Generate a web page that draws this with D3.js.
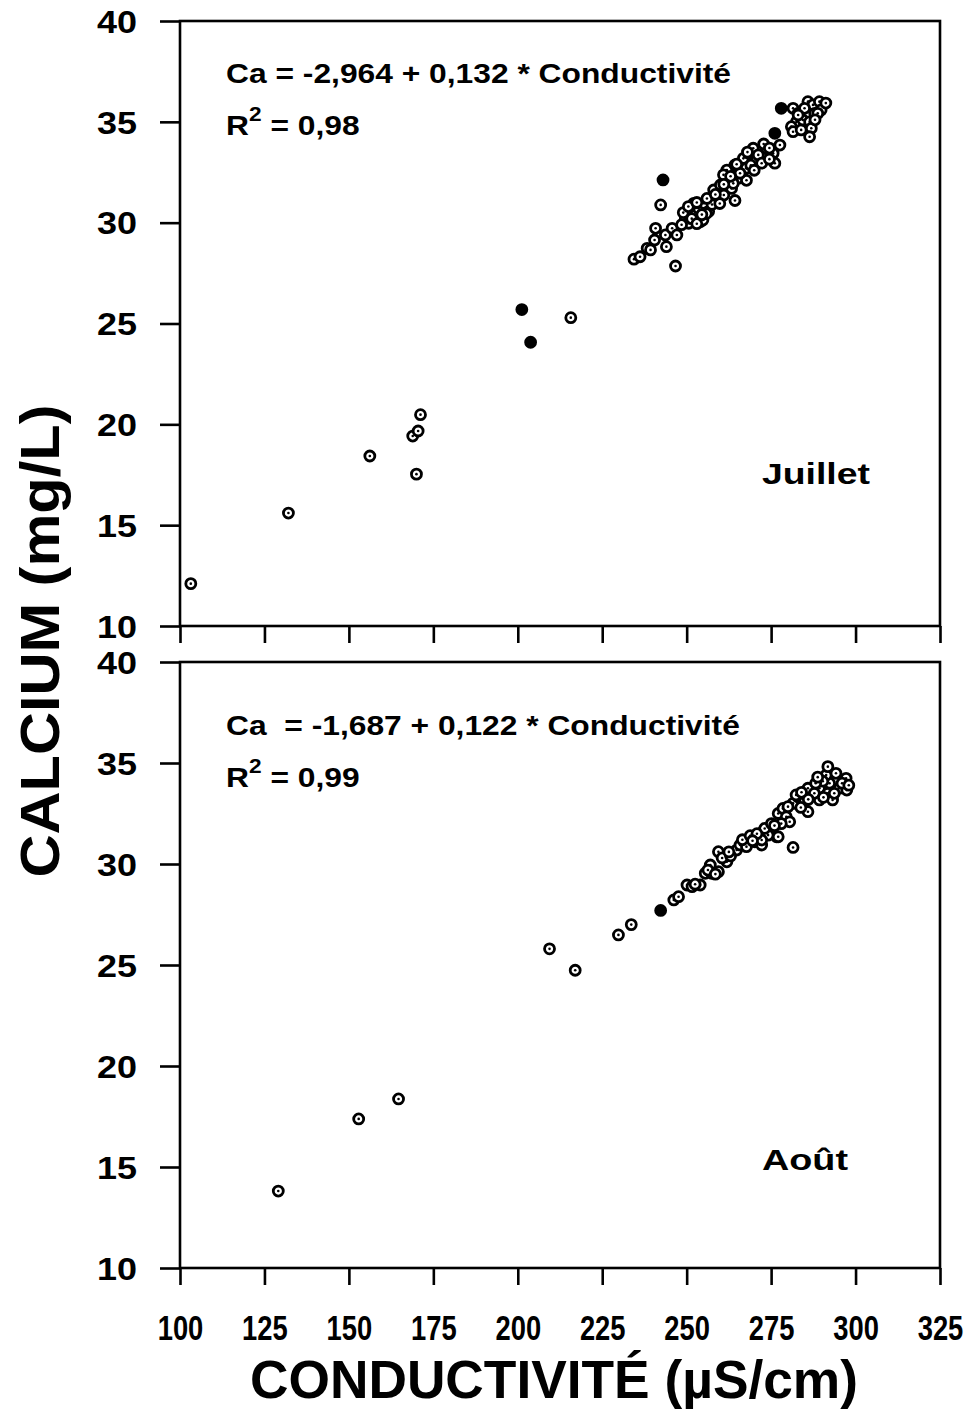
<!DOCTYPE html>
<html>
<head>
<meta charset="utf-8">
<script src="https://cdn.jsdelivr.net/npm/d3@7"></script>
<style>
  html, body { margin: 0; padding: 0; background: #fff; }
  svg { display: block; }
  text { font-family: "Liberation Sans", Arial, Helvetica, sans-serif; font-weight: bold; fill: #000; }
</style>
</head>
<body>
<svg id="chart" width="971" height="1412"></svg>
<script>
// Conductivité (µS/cm) vs calcium (mg/L), juillet
const julyConductivity = [
  103.2, 132.1, 156.2, 170.0, 168.9, 170.5, 171.2, 201.2, 203.8, 215.7,
  234.4, 236.2, 238.3, 239.3, 240.5, 240.8, 243.7, 244.0, 245.7, 247.1,
  246.7, 242.3, 243.0, 249.6, 251.1, 250.6, 252.6, 254.0, 253.5, 255.0,
  254.8, 252.1, 256.5, 258.0, 260.0, 259.0, 261.0, 262.4, 263.3, 262.9,
  261.9, 257.2, 264.3, 265.3, 266.8, 267.7, 260.9, 264.3, 266.8, 268.3,
  269.7, 267.6, 270.7, 272.2, 273.6, 275.6, 277.6, 276.1, 271.2, 272.2,
  276.1, 278.0, 281.5, 283.0, 282.5, 281.0, 281.5, 283.9, 284.4, 285.9,
  287.4, 289.3, 287.9, 286.4, 286.9, 286.4, 289.8, 284.9, 291.2, 288.8,
  283.0, 288.0, 248.5, 251.5, 253.0, 255.8, 257.5, 259.8, 263.8, 265.8,
  269.0, 274.5, 249.0, 250.5, 253.0, 254.5, 256.0, 258.5, 261.0, 263.0,
  264.8, 268.0, 270.0, 272.8, 274.5
];
const julyCalcium = [
  12.1, 15.6, 18.43, 17.53, 19.42, 19.67, 20.48, 25.69, 24.07, 25.29,
  28.19, 28.31, 28.73, 28.65, 29.14, 29.72, 29.39, 28.81, 29.72, 29.39,
  27.85, 30.88, 32.12, 30.22, 30.63, 29.97, 30.38, 30.05, 30.71, 30.96,
  30.13, 30.96, 30.55, 31.62, 31.87, 31.29, 31.37, 32.03, 31.70, 32.53,
  32.61, 31.10, 31.10, 32.20, 32.60, 32.10, 32.37, 32.86, 33.19, 33.44,
  33.69, 32.70, 33.11, 33.27, 33.69, 33.44, 33.85, 32.95, 33.36, 32.95,
  34.43, 35.67, 35.67, 35.42, 35.00, 34.76, 34.51, 34.60, 35.09, 36.00,
  35.84, 36.00, 35.42, 35.00, 34.68, 34.26, 35.59, 35.67, 35.93, 35.42,
  35.34, 35.10, 29.90, 30.20, 29.95, 30.45, 30.90, 30.95, 31.95, 32.45,
  32.85, 33.15, 30.50, 30.80, 31.00, 30.40, 31.20, 31.40, 31.90, 32.30,
  32.90, 33.50, 32.60, 33.90, 33.70
];
// indices of the solid (filled) markers
const julySolid = [7, 8, 22, 60, 61];

// Conductivité (µS/cm) vs calcium (mg/L), août
const augustConductivity = [
  129.1, 152.9, 164.7, 209.4, 217.0, 229.8, 233.6, 242.3, 246.2, 247.6,
  250.1, 251.6, 254.0, 255.5, 257.0, 257.4, 259.4, 259.4, 261.9, 264.8,
  265.8, 267.7, 270.2, 272.2, 272.6, 276.6, 256.3, 258.5, 252.5, 260.5,
  263.0, 266.5, 268.8, 274.1, 272.2, 273.1, 275.1, 277.1, 278.5, 279.5,
  280.5, 281.5, 282.9, 284.9, 285.9, 286.9, 289.3, 289.3, 291.8, 293.2,
  292.3, 291.3, 291.8, 294.2, 297.2, 295.2, 297.4, 281.5, 277.1, 280.0,
  282.4, 285.9, 287.8, 290.3, 293.7, 288.2, 283.8, 278.0, 276.0, 270.8,
  296.0, 298.0, 290.5, 286.0, 262.5, 269.5, 284.0, 288.8
];
const augustCalcium = [
  13.81, 17.38, 18.37, 25.80, 24.74, 26.49, 27.00, 27.70, 28.22, 28.38,
  28.96, 28.88, 28.96, 29.54, 29.95, 29.54, 29.62, 30.61, 30.11, 30.69,
  30.94, 30.86, 31.10, 30.94, 31.60, 31.35, 29.70, 29.50, 29.00, 30.30,
  30.40, 31.20, 31.40, 31.43, 31.19, 31.76, 32.00, 32.50, 32.75, 32.34,
  32.09, 33.00, 33.33, 33.08, 32.59, 33.50, 33.75, 33.17, 33.50, 33.17,
  34.00, 34.40, 34.82, 34.49, 34.24, 33.75, 33.66, 30.82, 31.35, 32.84,
  33.42, 33.75, 33.50, 34.10, 33.50, 34.00, 32.80, 32.00, 31.90, 31.50,
  34.00, 33.90, 33.30, 33.20, 30.60, 31.15, 33.55, 34.30
];
const augustSolid = [7];

// axis ticks
const condTicks = [100, 125, 150, 175, 200, 225, 250, 275, 300, 325];
const caTicks = [10, 15, 20, 25, 30, 35, 40];

const svg = d3.select("#chart");
const stroke = 2.6;

const x = d3.scaleLinear().domain([100, 325]).range([180, 940]);
const panels = [
  {
    y: d3.scaleLinear().domain([10, 40]).range([626, 21]),
    cond: julyConductivity, ca: julyCalcium, solid: julySolid,
    eq: "Ca = -2,964 + 0,132 * Conductivité", r2: "0,98",
    eqY: 83, r2Y: 135, month: "Juillet", monthY: 484, monthW: 108, xLabels: false
  },
  {
    y: d3.scaleLinear().domain([10, 40]).range([1268, 662]),
    cond: augustConductivity, ca: augustCalcium, solid: augustSolid,
    eq: "Ca\u00A0 = -1,687 + 0,122 * Conductivité", r2: "0,99",
    eqY: 735, r2Y: 787, month: "Août", monthY: 1170, monthW: 86, xLabels: true
  }
];

panels.forEach(p => {
  const g = svg.append("g");
  const [y0, y1] = p.y.range();

  // frame
  g.append("rect")
    .attr("x", x(100)).attr("y", y1)
    .attr("width", x(325) - x(100)).attr("height", y0 - y1)
    .attr("fill", "none").attr("stroke", "#000").attr("stroke-width", stroke);

  // y axis
  const yAxis = g.append("g")
    .attr("transform", `translate(${x(100)},0)`)
    .call(d3.axisLeft(p.y).tickValues(caTicks).tickSize(20).tickPadding(23).tickFormat(d3.format("d")));
  yAxis.select(".domain").remove();
  yAxis.selectAll(".tick line").attr("stroke", "#000").attr("stroke-width", stroke);
  yAxis.selectAll(".tick text")
    .attr("font-size", 31).attr("dy", "0.36em")
    .attr("textLength", 40).attr("lengthAdjust", "spacingAndGlyphs")
    .style("font-family", "'Liberation Sans', Arial, sans-serif").style("font-weight", "bold");

  // x axis
  const xAxis = g.append("g")
    .attr("transform", `translate(0,${y0})`)
    .call(d3.axisBottom(x).tickValues(condTicks).tickSize(17).tickPadding(8)
      .tickFormat(p.xLabels ? d3.format("d") : () => ""));
  xAxis.select(".domain").remove();
  xAxis.selectAll(".tick line").attr("stroke", "#000").attr("stroke-width", stroke);
  if (p.xLabels) {
    // condensed tick labels
    xAxis.selectAll(".tick text")
      .attr("font-size", 36).attr("y", 0).attr("dy", 0)
      .attr("transform", "translate(0,72) scale(0.76,1)")
      .style("font-family", "'Liberation Sans', Arial, sans-serif").style("font-weight", "bold");
  }

  // regression equation and R²
  g.append("text")
    .attr("transform", `translate(226,${p.eqY}) scale(1.135,1)`)
    .attr("font-size", 28)
    .style("white-space", "pre")
    .text(p.eq);
  const r2 = g.append("text")
    .attr("transform", `translate(226,${p.r2Y}) scale(1.135,1)`)
    .attr("font-size", 28);
  r2.append("tspan").text("R");
  r2.append("tspan").attr("font-size", 20).attr("dy", -14).text("2");
  r2.append("tspan").attr("dy", 14).text(" = " + p.r2);

  // month
  g.append("text")
    .attr("x", 762).attr("y", p.monthY)
    .attr("font-size", 30)
    .attr("textLength", p.monthW).attr("lengthAdjust", "spacingAndGlyphs")
    .text(p.month);

  // points
  const idx = d3.range(p.cond.length);
  const pts = g.append("g").selectAll("g").data(idx).join("g")
    .attr("transform", i => `translate(${x(p.cond[i])},${p.y(p.ca[i])})`);
  pts.append("circle")
    .attr("r", 5)
    .attr("fill", i => p.solid.includes(i) ? "#000" : "#fff")
    .attr("stroke", "#000").attr("stroke-width", 2.8);
  pts.filter(i => !p.solid.includes(i)).append("circle")
    .attr("r", 1.3).attr("fill", "#000");
});

// axis titles
svg.append("text")
  .attr("transform", "translate(59,641) rotate(-90)")
  .attr("text-anchor", "middle")
  .attr("font-size", 55)
  .attr("textLength", 473).attr("lengthAdjust", "spacingAndGlyphs")
  .text("CALCIUM (mg/L)");

svg.append("text")
  .attr("x", 554).attr("y", 1398)
  .attr("text-anchor", "middle")
  .attr("font-size", 53)
  .attr("textLength", 608).attr("lengthAdjust", "spacingAndGlyphs")
  .text("CONDUCTIVITÉ (µS/cm)");
</script>
</body>
</html>
